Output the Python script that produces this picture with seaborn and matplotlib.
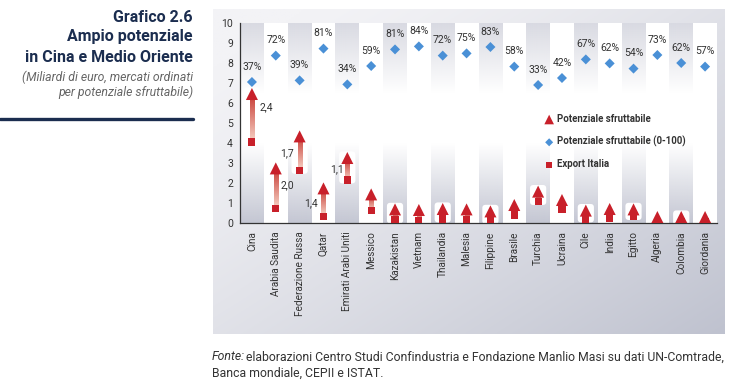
import numpy as np
import pandas as pd
import matplotlib.pyplot as plt
import seaborn as sns
from matplotlib.colors import LinearSegmentedColormap, to_rgb
from matplotlib.patches import FancyBboxPatch
from matplotlib.lines import Line2D

paesi = ['Cina', 'Arabia Saudita', 'Federazione Russa', 'Qatar', 'Emirati Arabi Uniti',
         'Messico', 'Kazakistan', 'Vietnam', 'Thailandia', 'Malesia', 'Filippine',
         'Brasile', 'Turchia', 'Ucraina', 'Cile', 'India', 'Egitto', 'Algeria',
         'Colombia', 'Giordania']
export_italia = [4.05, 0.73, 2.63, 0.33, 2.15, 0.62, 0.15, 0.12, 0.2, 0.15, 0.12,
                 0.4, 1.07, 0.68, 0.2, 0.25, 0.32, 0.05, 0.05, 0.05]
potenziale = [6.45, 2.73, 4.33, 1.73, 3.25, 1.43, 0.68, 0.65, 0.7, 0.68, 0.58,
              0.9, 1.57, 1.15, 0.62, 0.7, 0.68, 0.3, 0.3, 0.3]
indice = [7.05, 8.37, 7.13, 8.72, 6.93, 7.85, 8.68, 8.83, 8.37, 8.48, 8.8,
          7.82, 6.9, 7.25, 8.18, 7.98, 7.72, 8.4, 8.0, 7.82]
percentuali = [37, 72, 39, 81, 34, 59, 81, 84, 72, 75, 83, 58, 33, 42, 67, 62, 54, 73, 62, 57]
delta_labels = ['2,4', '2,0', '1,7', '1,4', '1,1']
delta_pos = [(0.6, 5.8), (0.48, 1.9), (-0.54, 3.48), (-0.54, 0.98), (-0.42, 2.7)]

df = pd.DataFrame({'pos': np.arange(len(paesi)), 'paese': paesi,
                   'export': export_italia, 'potenziale': potenziale, 'indice': indice})

sns.set_style('white')
plt.rcParams['font.family'] = ['Roboto', 'DejaVu Sans']

navy = '#1b2d4f'
red = '#c8202a'
blue = '#4a90d6'
txt = '#333333'

fig = plt.figure(figsize=(7.38, 3.9), dpi=100)

# background panel with gradient
bg = fig.add_axes([213 / 738, 1 - 334 / 390, 512 / 738, 325 / 390], zorder=-5)
gx, gy = np.meshgrid(np.linspace(0, 1, 200), np.linspace(0, 1, 200))
t = np.clip(0.55 * gx + 0.55 * gy - 0.1, 0, 1) ** 1.3
c0, c1 = np.array(to_rgb('#f3f3f6')), np.array(to_rgb('#bfc2cf'))
bg.imshow(c0 + (c1 - c0) * t[..., None], extent=[0, 1, 0, 1], aspect='auto', origin='upper')
bg.axis('off')

ax = fig.add_axes([240 / 738, 1 - 223 / 390, 477 / 738, 200 / 390])
ax.set_facecolor('white')

# alternating gray bands with vertical gradient
yy = np.linspace(0, 10, 300)
band = np.zeros((300, 1, 4))
top_a = np.clip((yy - 6.5) / 3.5, 0, 1)
bot_a = np.clip((4.0 - yy) / 4.0, 0, 1)
ctop, cbot = np.array(to_rgb('#d9dae2')), np.array(to_rgb('#c4c7d3'))
band[:, 0, :3] = np.where((top_a > 0)[:, None], ctop, cbot)
band[:, 0, 3] = np.maximum(top_a, bot_a)
for i in range(0, len(paesi), 2):
    ax.imshow(band, extent=[i - 0.5, i + 0.5, 0, 10], aspect='auto', origin='lower', zorder=0)

# white boxes and gradient shafts
shaft = LinearSegmentedColormap.from_list('shaft', ['#f7d3c6', '#c9413a'])
grad = np.linspace(0, 1, 100)[:, None]
for i, (e, p) in enumerate(zip(export_italia, potenziale)):
    box = FancyBboxPatch((i - 0.34, e - 0.17), 0.68, p - e + 0.5,
                         boxstyle='round,pad=0,rounding_size=0.14',
                         mutation_aspect=1.19, fc='white', ec='none', zorder=1)
    ax.add_patch(box)
    ax.imshow(grad, cmap=shaft, extent=[i - 0.085, i + 0.085, e, p - 0.1],
              aspect='auto', origin='lower', zorder=2)

sns.scatterplot(data=df, x='pos', y='export', marker='s', s=26, color=red,
                edgecolor='none', label='Export Italia', zorder=3, ax=ax)
sns.scatterplot(data=df, x='pos', y='potenziale', marker='^', s=75, color=red,
                edgecolor='none', label='Potenziale sfruttabile', zorder=4, ax=ax)
sns.scatterplot(data=df, x='pos', y='indice', marker='D', s=26, color=blue,
                edgecolor='none', label='Potenziale sfruttabile (0-100)', zorder=4, ax=ax)

for i, (d, pc) in enumerate(zip(indice, percentuali)):
    ax.annotate(f'{pc}%', (i, d), xytext=(0, 11), textcoords='offset points',
                ha='center', va='center', fontsize=7.5, color=txt)
for i, (lab, (dx, yv)) in enumerate(zip(delta_labels, delta_pos)):
    ax.text(i + dx, yv, lab, ha='center', va='center', fontsize=7.5, color=txt)

ax.set_xlim(-0.5, len(paesi) - 0.5)
ax.set_ylim(0, 10)
ax.set_yticks(range(0, 11))
ax.set_xticks(range(len(paesi)))
ax.set_xticklabels(paesi, rotation=90, fontsize=7.2, color=txt)
ax.set_xticks(np.arange(-0.5, len(paesi)), minor=True)
ax.tick_params(axis='x', which='major', length=0, pad=6)
ax.tick_params(axis='x', which='minor', length=4, width=0.8, color=txt)
ax.tick_params(axis='y', length=3, width=0.8, color=txt, labelsize=7.5, labelcolor=txt, pad=2)
ax.set_xlabel('')
ax.set_ylabel('')
for s in ['top', 'right']:
    ax.spines[s].set_visible(False)
for s in ['left', 'bottom']:
    ax.spines[s].set_color(txt)
    ax.spines[s].set_linewidth(0.9)

handles, labels = ax.get_legend_handles_labels()
order = ['Potenziale sfruttabile', 'Potenziale sfruttabile (0-100)', 'Export Italia']
hmap = dict(zip(labels, handles))
leg = ax.legend([hmap[k] for k in order], order, loc='upper left', bbox_to_anchor=(0.62, 0.588),
                frameon=False, labelspacing=1.25, handletextpad=0.35, handlelength=1.0,
                prop={'weight': 'bold', 'size': 6.9}, labelcolor=txt, markerscale=0.8)

# title block
for yp, s in [(17, 'Grafico 2.6'), (37, 'Ampio potenziale'), (57, 'in Cina e Medio Oriente')]:
    fig.text(193 / 738, 1 - yp / 390, s, ha='right', va='center',
             fontsize=11.5, weight='bold', color=navy)
for yp, s in [(77, '(Miliardi di euro, mercati ordinati'), (92, 'per potenziale sfruttabile)')]:
    fig.text(193 / 738, 1 - yp / 390, s, ha='right', va='center',
             fontsize=8.8, style='italic', color='#666666')
fig.add_artist(Line2D([0, 193 / 738], [1 - 118.5 / 390] * 2, color=navy, lw=2.4))

# source note
t1 = fig.text(212 / 738, 1 - 357 / 390, 'Fonte:', ha='left', va='center',
              fontsize=8.8, style='italic', color=txt)
ax.annotate('elaborazioni Centro Studi Confindustria e Fondazione Manlio Masi su dati UN-Comtrade,',
            xy=(1, 0), xycoords=t1, xytext=(0.3, 0), textcoords='offset points',
            ha='left', va='bottom', fontsize=8.8, color=txt, annotation_clip=False)
fig.text(212 / 738, 1 - 373 / 390, 'Banca mondiale, CEPII e ISTAT.', ha='left',
         va='center', fontsize=8.8, color=txt)

fig.savefig('out.png', dpi=100)
